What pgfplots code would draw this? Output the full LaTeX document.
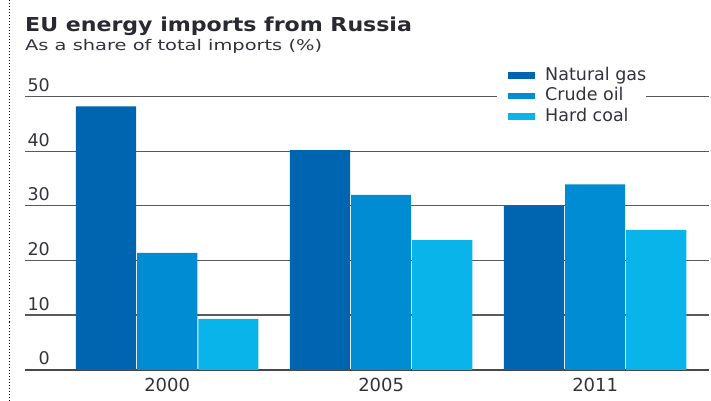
\documentclass[border=0pt]{standalone}
\usepackage{pgfplots}
\pgfplotsset{compat=1.18}
\usepackage{graphicx}
\usepackage{fontspec}
\setmainfont{DejaVu Sans}
\definecolor{gas}{HTML}{0065B0}
\definecolor{oil}{HTML}{008CD2}
\definecolor{coal}{HTML}{09B4EA}
\definecolor{txt}{HTML}{33333F}
\definecolor{gridc}{HTML}{5A5A5A}
\begin{document}
\begin{tikzpicture}
\begin{axis}[
  scale only axis, width=684pt, height=273.3pt,
  clip=false,
  xmin=-0.6645, xmax=2.532, ymin=0, ymax=50,
  ybar=1pt, bar width=0.281,
  xtick={0,1,2}, xticklabels={2000,2005,2011},
  ytick={0,10,20,30,40,50},
  major tick length=0pt,
  axis x line*=bottom, axis y line*=left,
  x axis line style={gridc!80!black, line width=1.5pt},
  y axis line style={draw=none},
  ymajorgrids, grid style={gridc, line width=1.3pt},
  /pgf/number format/assume math mode=true,
  yticklabel style={anchor=base east, inner sep=0pt, xshift=25pt, yshift=5pt,
    font=\fontsize{17.5}{18}\selectfont, text=txt},
  xticklabel style={anchor=base, inner sep=0pt, yshift=-21.7pt,
    font=\fontsize{18}{20}\selectfont, text=txt},
  legend image code/.code={\path (0pt,0pt); \fill[#1,draw=none] (11pt,-3.3pt) rectangle (38pt,3.3pt);},
  legend style={at={(axis description cs:0.6901,1.1134)}, anchor=north west,
    draw=none, fill=white, inner xsep=0pt, inner ysep=2pt, row sep=4.5pt,
    font=\fontsize{17.5}{18}\selectfont, text=txt,
    nodes={inner sep=0pt, text height=12.5pt, text depth=3.5pt},
    legend cell align=left, column sep=10pt},
]
\addplot[fill=gas, draw=none] coordinates {(0,48.2) (1,40.2) (2,30.1)};
\addplot[fill=oil, draw=none] coordinates {(0,21.4) (1,32.0) (2,33.9)};
\addplot[fill=coal, draw=none] coordinates {(0,9.3) (1,23.7) (2,25.6)};
\legend{Natural gas, Crude oil, Hard coal}
\path (axis description cs:-0.036550,1.351262) rectangle (axis description cs:1.002924,-0.112331);
\draw[black, dotted, line width=1pt] (axis description cs:-0.021930,1.351262) -- (axis description cs:-0.021930,-0.112331);
\node[anchor=base west, inner sep=0, text=txt!80!black] at (axis description cs:0,1.237834)
  {\scalebox{1.15}[1]{\bfseries\fontsize{19.2}{22}\selectfont EU energy imports from Russia}};
\node[anchor=base west, inner sep=0, text=txt] at (axis description cs:0,1.168313)
  {\scalebox{1.32}[1]{\fontsize{14.7}{16}\selectfont As a share of total imports (\%)}};
\end{axis}
\end{tikzpicture}
\end{document}
